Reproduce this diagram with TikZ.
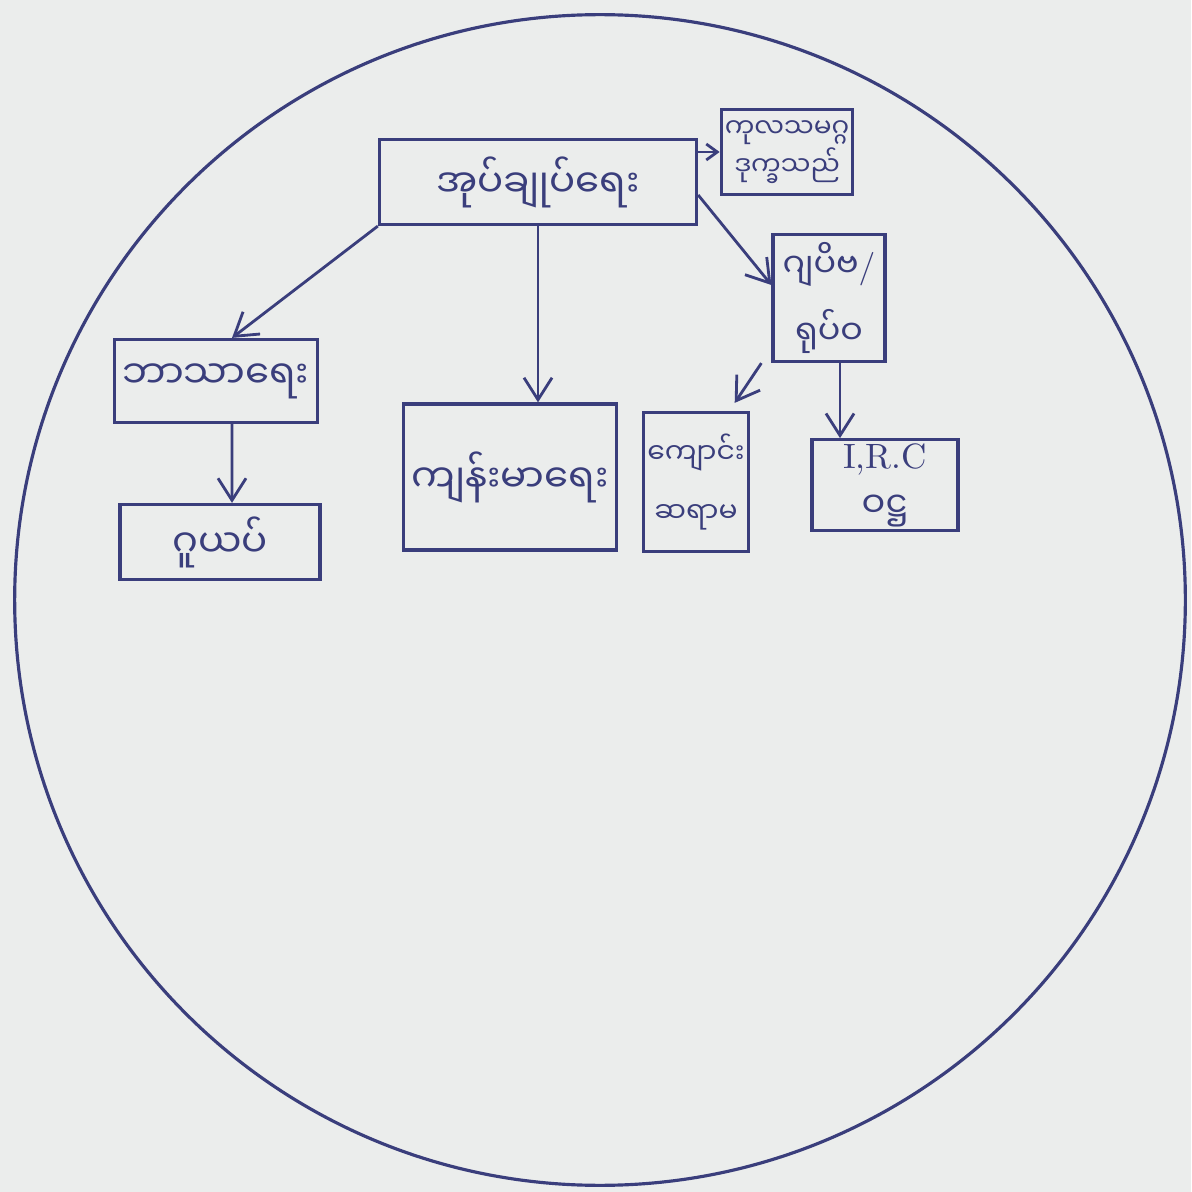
\documentclass[tikz,border=0pt]{standalone}
\usepackage{fontspec}
\newfontfamily\mmfont[Script=Myanmar]{Noto Sans Myanmar UI}
\usetikzlibrary{arrows.meta,positioning,calc}
\definecolor{InkBlue}{HTML}{3A3E7C}
\definecolor{PaperGray}{HTML}{EBEDEC}

\begin{document}
\begin{tikzpicture}[
  x=0.01cm,y=-0.01cm,
  box/.style={draw=InkBlue,line width=0.9pt,align=center,text=InkBlue,inner sep=1pt,font=\mmfont\fontsize{11}{20}\selectfont},
  smallbox/.style={box,font=\mmfont\fontsize{7.5}{11}\selectfont},
  midbox/.style={box,font=\mmfont\fontsize{9.5}{19}\selectfont},
  arrow/.style={-{Straight Barb[length=2.2mm,width=2.8mm]},line width=0.8pt,draw=InkBlue},
  tinyarrow/.style={arrow,-{Straight Barb[length=1.1mm,width=1.6mm]}}
]
\fill[PaperGray] (0,0) rectangle (1191,1192);
\useasboundingbox (0,0) rectangle (1191,1192);
\draw[InkBlue,line width=0.9pt] (600,600) circle (5.85cm);
% top row
\node[box,minimum width=3.17cm,minimum height=0.85cm] (admin) at (538,182) {အုပ်ချုပ်ရေး};
\node[smallbox,minimum width=1.21cm,minimum height=0.85cm] (un) at (787,152) {ကုလသမဂ္ဂ\\ဒုက္ခသည်};
\node[midbox,minimum width=1.12cm,minimum height=1.27cm] (clinic) at (829,298) {ဂျပိဗ{\rmfamily /}\\ရုပ်ဝ};
% left column
\node[box,minimum width=2.03cm,minimum height=0.83cm] (religion) at (216,381) {ဘာသာရေး};
\node[box,minimum width=2.00cm,minimum height=0.75cm] (monk) at (220,542) {ဂူယပ်};
% lower row
\node[box,minimum width=2.13cm,minimum height=1.46cm] (health) at (510,477) {ကျန်းမာရေး};
\node[smallbox,font=\mmfont\fontsize{8}{17}\selectfont,minimum width=1.03cm,minimum height=1.39cm] (school) at (696,482) {ကျောင်း\\ဆရာမ};
\node[box,font=\mmfont\fontsize{10}{14}\selectfont,minimum width=1.46cm,minimum height=0.90cm] (irc) at (885,485) {{\rmfamily I,R.C}\\ဝဋ္ဌ};
% arrows
\draw[arrow] (admin.south) -- (admin.south |- health.north);
\draw[arrow] (admin.south west) -- ([xshift=0.16cm]religion.north);
\draw[arrow] ([xshift=0.16cm]religion.south) -- ([xshift=0.12cm]monk.north);
\draw[tinyarrow] (admin.east |- un.west) -- (un.west);
\draw[arrow] ([yshift=-0.13cm]admin.east) -- ([yshift=0.13cm]clinic.west);
\draw[arrow] ([xshift=-0.1cm]clinic.south west) -- ([xshift=-0.15cm,yshift=0.08cm]school.north east);
\draw[arrow] ([xshift=0.11cm]clinic.south) -- ([xshift=0.11cm]clinic.south |- irc.north);
\end{tikzpicture}
\end{document}
